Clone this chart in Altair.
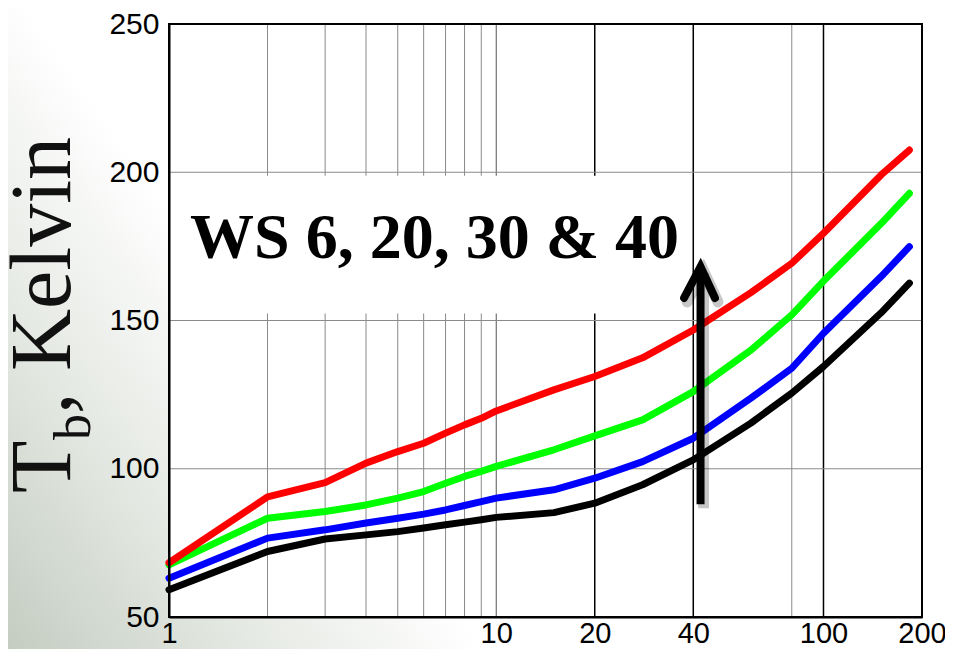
import altair as alt
import pandas as pd

# ---- data ----
x_vals = [1, 2, 3, 4, 5, 6, 7, 8, 9, 10, 15, 20, 28, 40, 60, 80, 100, 150, 183]
ws6 = [59.2, 72.1, 76.3, 77.7, 78.8, 80.0, 81.1, 82.0, 82.8, 83.6, 85.2, 88.4, 94.6, 103.0, 115.4, 125.5, 134.5, 152.6, 162.6]
ws20 = [63.1, 76.6, 79.4, 81.7, 83.3, 84.7, 86.1, 87.6, 88.9, 90.1, 92.9, 96.8, 102.4, 110.3, 123.8, 133.9, 145.7, 164.8, 174.9]
ws30 = [67.6, 83.3, 85.6, 87.8, 90.1, 92.3, 95.1, 97.4, 99.1, 100.8, 106.4, 111.1, 116.5, 126.0, 140.0, 151.9, 163.3, 182.7, 192.9]
ws40 = [68.3, 90.5, 95.3, 101.9, 105.8, 108.6, 112.0, 114.8, 117.0, 119.5, 126.6, 131.1, 137.4, 146.8, 159.4, 169.3, 179.4, 199.1, 207.5]
series_names = ["WS 6", "WS 20", "WS 30", "WS 40"]
series_colors = ["#000000", "#0000ff", "#00ff00", "#ff0000"]

x_ticks = [1, 10, 20, 40, 100, 200]
y_ticks = [50, 100, 150, 200, 250]
grid_x_minor = [2, 3, 4, 5, 6, 7, 8, 9, 80]
grid_x_mid = [10]
grid_x_major = [20, 40, 100]
grid_y = [100, 150, 200]

annotation_text = "WS 6, 20, 30 & 40"

W, H = 753, 593

xs = alt.Scale(type="log", domain=[1, 200], nice=False)
ys = alt.Scale(domain=[50, 250], nice=False, zero=False)

xaxis = alt.Axis(values=x_ticks, title=None, grid=False, ticks=False, tickSize=0,
                 labelFontSize=29, labelFont="Liberation Sans", labelColor="black",
                 labelPadding=2.5, labelFlush=False, labelOverlap=False,
                 domainColor="black", domainWidth=2, zindex=1, format="d")
yaxis = alt.Axis(values=y_ticks, title=None, grid=False, ticks=False, tickSize=0,
                 labelFontSize=30, labelFont="Liberation Sans", labelColor="black",
                 labelPadding=10, labelOverlap=False,
                 domainColor="black", domainWidth=2, zindex=1, format="d")


def X(f):
    return alt.X(f, type="quantitative", scale=xs, axis=xaxis)


def Y(f):
    return alt.Y(f, type="quantitative", scale=ys, axis=yaxis)


one = pd.DataFrame({"k": [0]})

rows = []
for name, vals in zip(series_names, [ws6, ws20, ws30, ws40]):
    for xv, yv in zip(x_vals, vals):
        rows.append({"x": xv, "y": yv, "series": name})
df = pd.DataFrame(rows)

grad = alt.LinearGradient(
    gradient="linear",
    stops=[alt.GradientStop(color="#c4cdc2", offset=0),
           alt.GradientStop(color="#e4e8e2", offset=0.5),
           alt.GradientStop(color="#ffffff", offset=1)],
    x1=0, y1=1, x2=0.41, y2=0.8)

bg = alt.Chart(one).mark_rect(fill=grad).encode(
    x=alt.value(-161), x2=alt.value(W + 23), y=alt.value(-16), y2=alt.value(H + 32))

plot_bg = alt.Chart(one).mark_rect(fill="white").encode(
    x=alt.value(0), x2=alt.value(W), y=alt.value(0), y2=alt.value(H))

vg_minor = alt.Chart(pd.DataFrame({"g": grid_x_minor})).mark_rule(color="#8a8a8a", strokeWidth=1).encode(
    x=X("g"), y=alt.value(0), y2=alt.value(H))
vg_mid = alt.Chart(pd.DataFrame({"g": grid_x_mid})).mark_rule(color="#555555", strokeWidth=1).encode(
    x=X("g"), y=alt.value(0), y2=alt.value(H))
vg_major = alt.Chart(pd.DataFrame({"g": grid_x_major})).mark_rule(color="#000000", strokeWidth=1.5).encode(
    x=X("g"), y=alt.value(0), y2=alt.value(H))
hg = alt.Chart(pd.DataFrame({"g": grid_y})).mark_rule(color="#8a8a8a", strokeWidth=1).encode(
    y=Y("g"), x=alt.value(0), x2=alt.value(W))

box = alt.Chart(pd.DataFrame({"x0": [1.08], "x1": [39.0], "y0": [152.4], "y1": [198.8]})).mark_rect(
    fill="white").encode(x=X("x0"), x2="x1:Q", y=Y("y0"), y2="y1:Q")

lines = alt.Chart(df).mark_line(strokeWidth=7, strokeJoin="round", strokeCap="round").encode(
    x=X("x"), y=Y("y"),
    color=alt.Color("series:N", scale=alt.Scale(domain=series_names, range=series_colors), legend=None))

label = alt.Chart(pd.DataFrame({"x": [1.16], "y": [171.1], "t": [annotation_text]})).mark_text(
    font="Liberation Serif", fontWeight="bold", fontSize=64, align="left", baseline="alphabetic",
    color="black").encode(x=X("x"), y=Y("y"), text="t:N")

shaft_df = pd.DataFrame({"x": [42.1], "y0": [88.0], "y1": [166.0]})
head_df = pd.DataFrame({"x": [37.5, 42.1, 46.6], "y": [157.6, 168.1, 157.6], "o": [0, 1, 2]})

shaft_sh = alt.Chart(shaft_df).mark_rule(color="#000000", opacity=0.22, strokeWidth=11, xOffset=3, yOffset=4).encode(
    x=X("x"), y=Y("y0"), y2="y1:Q")
head_sh = alt.Chart(head_df).mark_line(color="#000000", opacity=0.22, strokeWidth=11, strokeCap="round",
                                       strokeJoin="miter", xOffset=3, yOffset=4).encode(
    x=X("x"), y=Y("y"), order="o:Q")
shaft = alt.Chart(shaft_df).mark_rule(color="#000000", strokeWidth=8).encode(
    x=X("x"), y=Y("y0"), y2="y1:Q")
head = alt.Chart(head_df).mark_line(color="#000000", strokeWidth=8, strokeCap="round", strokeJoin="miter").encode(
    x=X("x"), y=Y("y"), order="o:Q")

frame = alt.Chart(one).mark_rect(fillOpacity=0, stroke="black", strokeWidth=2).encode(
    x=alt.value(0), x2=alt.value(W), y=alt.value(0), y2=alt.value(H))

t_main = alt.Chart(one).mark_text(font="Liberation Serif", fontSize=86, angle=270, align="left",
                                  baseline="alphabetic", color="#111111").encode(
    x=alt.value(-99), y=alt.value(469), text=alt.value("T"))
t_sub = alt.Chart(one).mark_text(font="Liberation Serif", fontSize=52, angle=270, align="left",
                                 baseline="alphabetic", color="#111111").encode(
    x=alt.value(-79), y=alt.value(416), text=alt.value("b"))
t_rest = alt.Chart(one).mark_text(font="Liberation Serif", fontSize=86, angle=270, align="left",
                                  baseline="alphabetic", color="#111111").encode(
    x=alt.value(-99), y=alt.value(390), text=alt.value(", Kelvin"))

chart = alt.layer(
    bg, plot_bg, vg_minor, vg_mid, vg_major, hg, box, lines, label,
    shaft_sh, head_sh, shaft, head, frame, t_main, t_sub, t_rest
).properties(
    width=W, height=H,
    autosize=alt.AutoSizeParams(type="none"),
    padding={"left": 161, "top": 16, "right": 23, "bottom": 32},
    background="white",
).configure_view(stroke="transparent")

chart.save("out.html", embed_options={"renderer": "svg", "actions": False})
